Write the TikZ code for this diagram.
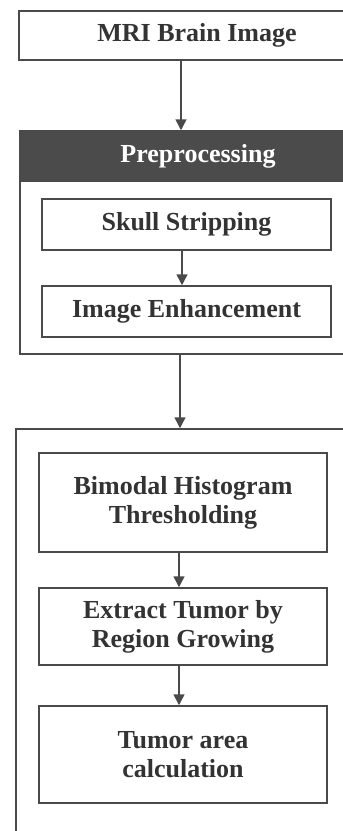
\documentclass[tikz,border=0pt]{standalone}
\usepackage{fontspec}
\setmainfont{Liberation Serif}
\usetikzlibrary{arrows.meta}
\definecolor{linegray}{HTML}{4A4A4A}
\definecolor{textgray}{HTML}{333333}
\definecolor{headgray}{HTML}{4B4B4B}
\tikzset{
  boxstyle/.style={draw=linegray, line width=1.5pt, fill=white, text=textgray,
    font=\fontsize{26}{29}\selectfont\bfseries, align=center, inner sep=0pt},
  outerbox/.style={draw=linegray, line width=1.5pt, inner sep=0pt},
  headstyle/.style={draw=linegray, line width=1.5pt, fill=headgray, text=white,
    font=\fontsize{26}{29}\selectfont\bfseries, inner sep=0pt},
  flowarrow/.style={draw=linegray, line width=1.5pt, -{Triangle[width=11pt,length=11pt]}}
}
\begin{document}
\begin{tikzpicture}[x=1pt,y=-1pt]
\useasboundingbox (0,0) rectangle (343,831);
\clip (0,0) rectangle (343,831);
\fill[white] (0,0) rectangle (343,831);
% top box
\node[boxstyle, minimum width=356pt, minimum height=49pt] (mri) at (197,35.5) {MRI Brain Image};
% preprocessing group
\node[outerbox, minimum width=356pt, minimum height=223pt] (pre) at (198,242.5) {};
\node[headstyle, minimum width=356pt, minimum height=50pt] (prehead) at (198,156) {Preprocessing};
\node[boxstyle, minimum width=289pt, minimum height=51pt] (skull) at (186.5,224.5) {Skull Stripping};
\node[boxstyle, minimum width=289pt, minimum height=51pt] (enh) at (186.5,311.5) {Image Enhancement};
% second group
\node[outerbox, minimum width=360pt, minimum height=431pt] (seg) at (196,644.5) {};
\node[boxstyle, minimum width=288pt, minimum height=99pt] (bimodal) at (183,502.5) {Bimodal Histogram\\Thresholding};
\node[boxstyle, minimum width=288pt, minimum height=77pt] (extract) at (183,626.5) {Extract Tumor by\\Region Growing};
\node[boxstyle, minimum width=288pt, minimum height=97pt] (area) at (183,754.5) {Tumor area\\calculation};
% arrow columns
\coordinate (c1) at (181,0);
\coordinate (c2) at (182,0);
\coordinate (c3) at (180,0);
\coordinate (c4) at (179,0);
\draw[flowarrow] (mri.south -| c1) -- (prehead.north -| c1);
\draw[flowarrow] (skull.south -| c2) -- (enh.north -| c2);
\draw[flowarrow] (pre.south -| c3) -- (seg.north -| c3);
\draw[flowarrow] (bimodal.south -| c4) -- (extract.north -| c4);
\draw[flowarrow] (extract.south -| c4) -- (area.north -| c4);
\end{tikzpicture}
\end{document}
